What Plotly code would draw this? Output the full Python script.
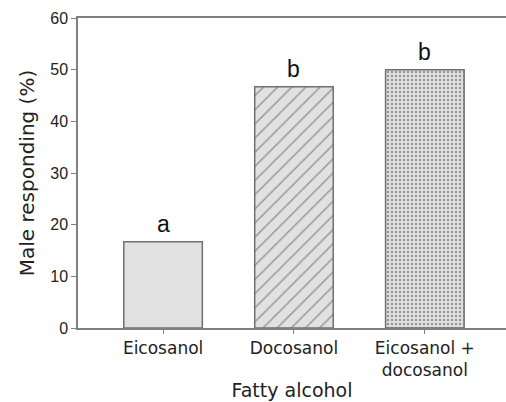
import plotly.graph_objects as go

# Response of males to each fatty alcohol treatment
categories = ["Eicosanol", "Docosanol", "Eicosanol +<br>docosanol"]
responding = [16.67, 46.67, 50.0]
group_letters = ["a", "b", "b"]
patterns = ["", "/", "."]

wide_font = "DejaVu Sans, Verdana, sans-serif"
narrow_font = "Liberation Sans, Arial, sans-serif"

fig = go.Figure()
fig.add_trace(go.Bar(
    x=categories,
    y=responding,
    width=0.6,
    marker=dict(
        color="#e1e1e1",
        line=dict(color="#707070", width=1.5),
        pattern=dict(shape=patterns, fgcolor="#4a4a4a", bgcolor="#e1e1e1",
                     size=[8, 10, 4], solidity=[0.2, 0.15, 0.3]),
    ),
    showlegend=False,
))

for cat, val, letter in zip(categories, responding, group_letters):
    fig.add_annotation(x=cat, y=val, text=letter, showarrow=False,
                       yanchor="bottom", yshift=3,
                       font=dict(size=23, family=narrow_font, color="#111111"))

fig.update_layout(
    width=506, height=402,
    margin=dict(l=78, r=0, t=18, b=74),
    paper_bgcolor="white", plot_bgcolor="white",
    font=dict(family=wide_font, color="#222222"),
)
fig.update_xaxes(
    range=[-0.65, 2.62],
    showline=True, linecolor="#808080", linewidth=1.5, mirror=True,
    ticks="outside", ticklen=4, tickcolor="#808080",
    tickfont=dict(size=17, family=wide_font, color="#222222"),
    title=dict(text="Fatty alcohol", font=dict(size=19, family=wide_font), standoff=4),
    showgrid=False,
)
fig.update_yaxes(
    range=[0, 60], tickvals=[0, 10, 20, 30, 40, 50, 60],
    showline=True, linecolor="#808080", linewidth=1.5,
    ticks="outside", ticklen=5, tickcolor="#808080",
    tickfont=dict(size=16, family=narrow_font, color="#222222"),
    title=dict(text="Male responding (%)", font=dict(size=20, family=wide_font), standoff=10),
    showgrid=False, zeroline=False,
)

fig.write_html("out.html")
